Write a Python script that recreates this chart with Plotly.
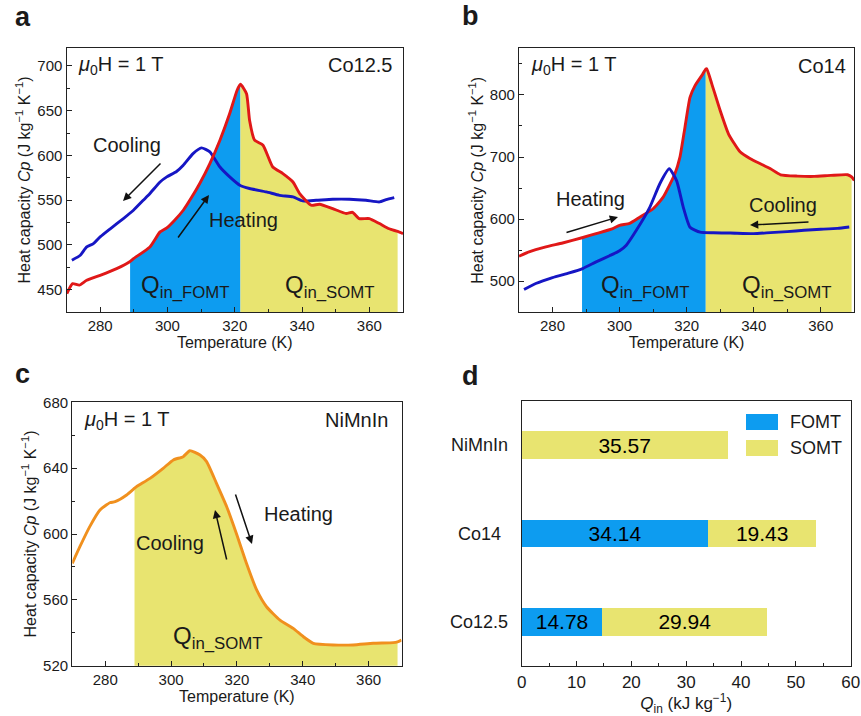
import numpy as np
import plotly.graph_objects as go

W, H = 861, 716

# ---------------- data ----------------
# panel a : Co12.5
a_heat_T = [270.1, 271.8, 273.8, 276.0, 280.0, 284.9, 288.9, 289.9, 294.8, 297.8, 299.8, 302.0, 304.7, 307.0,
            309.6, 312.6, 315.6, 318.5, 320.7, 321.7, 323.5, 324.4, 325.9, 328.4, 331.3, 334.3, 337.3, 339.3,
            342.7, 345.2, 349.1, 353.1, 355.0, 357.0, 360.0, 363.0, 365.9, 368.4, 370.0]
a_heat_Cp = [445.5, 456.7, 455.0, 460.4, 466.0, 473.5, 481.5, 484.6, 497.7, 514.5, 519.0, 527.0, 538.7, 552.0,
             568.6, 590.9, 617.0, 646.8, 672.8, 679.5, 669.0, 639.3, 617.0, 611.4, 587.0, 579.7, 570.3, 557.3,
             544.3, 545.4, 540.5, 535.0, 536.4, 529.4, 529.4, 523.8, 518.0, 515.0, 512.5]
a_cool_T = [271.6, 274.1, 276.0, 278.0, 280.0, 283.0, 286.9, 289.9, 292.8, 294.8, 297.8, 299.8, 302.7, 304.7,
            307.6, 310.1, 312.6, 315.6, 318.5, 321.5, 324.4, 329.4, 333.3, 337.3, 340.2, 344.2, 349.1, 354.1,
            359.0, 363.0, 365.0, 367.4]
a_cool_Cp = [482.8, 488.4, 497.7, 501.4, 508.9, 518.0, 529.4, 538.7, 549.8, 557.4, 570.3, 576.0, 582.0, 589.0,
             602.0, 608.4, 604.0, 587.0, 576.0, 566.7, 563.0, 559.2, 555.4, 553.6, 549.1, 549.8, 551.0, 551.0,
             549.8, 548.0, 550.6, 552.8]
a_fomt_range = [288.9, 321.7]
a_somt_range = [321.7, 368.4]

# panel b : Co14
b_heat_T = [270, 273, 278, 283, 288.8, 293, 298, 300, 303, 306, 310, 313, 316.5, 318, 319.5, 321, 322.5, 324.5,
            325.7, 326, 327.5, 330, 332.5, 336, 339, 342, 345, 348, 353, 358, 363, 368, 369.2, 370]
b_heat_Cp = [540.2, 547.2, 555.2, 561.6, 570.0, 576.6, 584.7, 590.0, 593.0, 603.0, 616.7, 635.4, 673.0, 699.7,
             748.0, 796.0, 815.0, 831.0, 841.5, 842.0, 817.7, 774.8, 737.0, 707.9, 697.2, 689.1, 681.1, 671.4,
             669.3, 668.8, 670.4, 671.4, 668.0, 662.3]
b_cool_T = [271.5, 275, 280, 285, 289, 293, 297, 300, 302, 305, 309, 312, 314.8, 317, 319, 321, 324, 328, 333,
            340, 345, 350, 355, 360, 365, 368.5]
b_cool_Cp = [486.7, 496.3, 505.9, 513.4, 520.4, 531.1, 541.0, 549.0, 558.0, 582.0, 619.0, 657.0, 681.0, 662.0,
             619.0, 587.0, 579.0, 578.0, 577.6, 576.6, 578.3, 579.9, 582.0, 583.6, 585.2, 587.4]
b_fomt_range = [288.8, 325.7]
b_somt_range = [325.7, 369.2]

# panel c : NiMnIn
c_T = [270.0, 272.3, 275.3, 278.4, 281.4, 283.0, 286.5, 288.9, 289.5, 293.6, 297.6, 300.7, 303.7, 305.7, 308.8,
       310.8, 313.8, 316.9, 320.0, 322.9, 326.0, 329.0, 333.1, 337.1, 340.2, 343.2, 349.3, 355.3, 361.4, 367.5,
       368.8, 370.0]
c_Cp = [582.2, 592.3, 604.5, 614.6, 619.0, 619.6, 623.7, 627.8, 628.8, 633.8, 639.9, 645.0, 647.0, 650.6, 648.0,
        644.0, 630.8, 616.6, 599.4, 582.2, 566.0, 555.8, 547.7, 542.7, 537.6, 533.6, 532.6, 532.6, 533.6, 534.0,
        534.5, 535.6]
c_somt_range = [288.9, 368.8]

# panel d : Q_in
d_samples = ["Co12.5", "Co14", "NiMnIn"]
d_fomt = [14.71, 34.04, 0.0]
d_somt = [30.09, 19.64, 37.57]
d_fomt_labels = ["14.78", "34.14", ""]
d_somt_labels = ["29.94", "19.43", "35.57"]
d_series = ["FOMT", "SOMT"]

# ---------------- style ----------------
FONT = "Arial, Liberation Sans, sans-serif"
C_BLUEFILL = "#0D9CF0"
C_YELLOW = "#E8E470"
C_RED = "#E01818"
C_BLUE = "#1616C4"
C_ORANGE = "#F0901E"
INK = "#1a1a1a"


def P(x, y):
    return x / W, 1 - y / H


fig = go.Figure()


def seg(T, Cp, rng):
    T = np.asarray(T)
    Cp = np.asarray(Cp)
    m = (T >= rng[0] - 1e-9) & (T <= rng[1] + 1e-9)
    return T[m], Cp[m]


def add_fill(T, Cp, rng, color, xa, ya):
    t, c = seg(T, Cp, rng)
    fig.add_trace(go.Scatter(x=t, y=c, mode="lines", line=dict(width=0, shape="spline", smoothing=0.5),
                             fill="tozeroy", fillcolor=color, xaxis=xa, yaxis=ya, showlegend=False,
                             hoverinfo="skip"))


def add_line(T, Cp, color, xa, ya, w=2.9):
    fig.add_trace(go.Scatter(x=T, y=Cp, mode="lines", line=dict(color=color, width=w, shape="spline", smoothing=0.5),
                             xaxis=xa, yaxis=ya, showlegend=False))


# panel a
add_fill(a_heat_T, a_heat_Cp, a_fomt_range, C_BLUEFILL, "x", "y")
add_fill(a_heat_T, a_heat_Cp, a_somt_range, C_YELLOW, "x", "y")
add_line(a_cool_T, a_cool_Cp, C_BLUE, "x", "y")
add_line(a_heat_T, a_heat_Cp, C_RED, "x", "y")
# panel b
add_fill(b_heat_T, b_heat_Cp, b_fomt_range, C_BLUEFILL, "x2", "y2")
add_fill(b_heat_T, b_heat_Cp, b_somt_range, C_YELLOW, "x2", "y2")
add_line(b_heat_T, b_heat_Cp, C_RED, "x2", "y2")
add_line(b_cool_T, b_cool_Cp, C_BLUE, "x2", "y2")
# panel c
add_fill(c_T, c_Cp, c_somt_range, C_YELLOW, "x3", "y3")
add_line(c_T, c_Cp, C_ORANGE, "x3", "y3")

# panel d
fig.add_trace(go.Bar(y=d_samples, x=d_fomt, orientation="h", name=d_series[0], marker=dict(color=C_BLUEFILL, line=dict(width=0)),
                     text=d_fomt_labels, textposition="inside", insidetextanchor="middle", constraintext="none",
                     textfont=dict(size=21, color="black", family=FONT), width=0.31,
                     xaxis="x4", yaxis="y4", showlegend=False))
fig.add_trace(go.Bar(y=d_samples, x=d_somt, orientation="h", name=d_series[1], marker=dict(color=C_YELLOW, line=dict(width=0)),
                     text=d_somt_labels, textposition="inside", insidetextanchor="middle", constraintext="none",
                     textfont=dict(size=21, color="black", family=FONT), width=0.31,
                     xaxis="x4", yaxis="y4", showlegend=False))

# ---------------- axes ----------------
def axis_common(**kw):
    d = dict(showline=True, linecolor="#222", linewidth=1.3, mirror=True, ticks="inside", ticklen=5,
             tickwidth=1.2, tickcolor="#222", showgrid=False, zeroline=False, automargin=False,
             tickfont=dict(family=FONT, size=15, color=INK))
    d.update(kw)
    return d


temp_title = dict(text="Temperature (K)", font=dict(family=FONT, size=16, color=INK), standoff=2)
cp_title = dict(text="Heat capacity <i>Cp</i> (J kg<sup>−1</sup> K<sup>−1</sup>)",
                font=dict(family=FONT, size=16, color=INK), standoff=2)

xa_common = dict(range=[270, 370], tick0=280, dtick=20, minor=dict(ticks="inside", ticklen=3, dtick=10, tick0=270, tickcolor="#222"))

pa = [P(66.5, 312), P(403, 48)]
pb = [P(519, 312.3), P(854.3, 48.3)]
pc = [P(72.3, 665.7), P(401.5, 402.3)]
pd_ = [P(521.7, 666), P(850.7, 401)]

fig.update_layout(
    xaxis=axis_common(domain=[pa[0][0], pa[1][0]], anchor="y", title=temp_title, **xa_common),
    yaxis=axis_common(domain=[pa[0][1], pa[1][1]], anchor="x", range=[425, 720], dtick=50, tick0=0,
                      minor=dict(ticks="inside", ticklen=3, dtick=25, tick0=0, tickcolor="#222"), title=cp_title),
    xaxis2=axis_common(domain=[pb[0][0], pb[1][0]], anchor="y2", title=temp_title, **xa_common),
    yaxis2=axis_common(domain=[pb[0][1], pb[1][1]], anchor="x2", range=[450, 875], dtick=100, tick0=0,
                       minor=dict(ticks="inside", ticklen=3, dtick=50, tick0=0, tickcolor="#222"), title=cp_title),
    xaxis3=axis_common(domain=[pc[0][0], pc[1][0]], anchor="y3", title=temp_title, **xa_common),
    yaxis3=axis_common(domain=[pc[0][1], pc[1][1]], anchor="x3", range=[520, 680], dtick=40, tick0=0,
                       minor=dict(ticks="inside", ticklen=3, dtick=20, tick0=0, tickcolor="#222"), title=cp_title),
    xaxis4=axis_common(domain=[pd_[0][0], pd_[1][0]], anchor="y4", range=[0, 60], dtick=10, tick0=0,
                       minor=dict(ticks="inside", ticklen=3, dtick=5, tick0=0, tickcolor="#222"),
                       tickfont=dict(family=FONT, size=17, color=INK),
                       title=dict(text="<i>Q</i><sub>in</sub> (kJ kg<sup>−1</sup>)",
                                  font=dict(family=FONT, size=17, color=INK), standoff=2)),
    yaxis4=axis_common(domain=[pd_[0][1], pd_[1][1]], anchor="x4", range=[-0.5, 2.5], ticks="",
                       showticklabels=False, type="category"),
    barmode="stack",
    width=W, height=H,
    margin=dict(l=0, r=0, t=0, b=0),
    paper_bgcolor="white", plot_bgcolor="white",
    font=dict(family=FONT, color=INK),
)

ann = []


def text(x, y, s, size, xanchor="center", yanchor="middle", bold=False):
    px, py = P(x, y)
    ann.append(dict(x=px, y=py, xref="paper", yref="paper", text=(f"<b>{s}</b>" if bold else s),
                    showarrow=False, xanchor=xanchor, yanchor=yanchor,
                    font=dict(family=FONT, size=size, color=INK)))


def arrow(hx, hy, tx, ty):
    px, py = P(hx, hy)
    ann.append(dict(x=px, y=py, xref="paper", yref="paper", text="", showarrow=True, ax=tx - hx, ay=ty - hy,
                    axref="pixel", ayref="pixel", arrowhead=2, arrowsize=1.1, arrowwidth=1.5, arrowcolor="#111",
                    standoff=0, startstandoff=0))


# panel letters
text(23, 17, "a", 27, bold=True)
text(471, 16, "b", 27, bold=True)
text(22, 374, "c", 27, bold=True)
text(471, 376, "d", 27, bold=True)

mu = "<i>μ</i><sub>0</sub>H = 1 T"
# panel a
text(76, 65, mu, 20, xanchor="left")
text(395, 65, "Co12.5", 20, xanchor="right")
text(127, 145, "Cooling", 20)
text(243, 220, "Heating", 20)
arrow(123, 201, 162, 162)
arrow(209, 195, 177, 239)
text(185, 286, "Q<sub>in_FOMT</sub>", 24)
text(330, 286, "Q<sub>in_SOMT</sub>", 24)
# panel b
text(529, 65, mu, 20, xanchor="left")
text(848, 66, "Co14", 20, xanchor="right")
text(590, 199, "Heating", 20)
text(783, 205, "Cooling", 20)
arrow(618, 217, 565, 233)
arrow(750, 225, 810, 222)
text(645, 286, "Q<sub>in_FOMT</sub>", 24)
text(787, 286, "Q<sub>in_SOMT</sub>", 24)
# panel c
text(82, 420, mu, 20, xanchor="left")
text(390, 420, "NiMnIn", 20, xanchor="right")
text(298, 514, "Heating", 20)
text(170, 543, "Cooling", 20)
arrow(252, 544, 235, 493)
arrow(215, 510, 227, 561)
text(218, 637, "Q<sub>in_SOMT</sub>", 24)

# panel d category labels (centred)
for name in d_samples:
    ann.append(dict(x=479 / W, y=name, xref="paper", yref="y4", text=name, showarrow=False,
                    xanchor="center", yanchor="middle", font=dict(family=FONT, size=18, color=INK)))

# panel d legend
shapes = []
leg_rows = [(422, C_BLUEFILL), (448, C_YELLOW)]
for (yy, col), nm in zip(leg_rows, d_series):
    x0, y0 = P(746, yy - 8)
    x1, y1 = P(778, yy + 8)
    shapes.append(dict(type="rect", xref="paper", yref="paper", x0=x0, x1=x1, y0=y1, y1=y0,
                       fillcolor=col, line=dict(width=0)))
    text(788, yy, nm, 18, xanchor="left")

fig.update_layout(annotations=ann, shapes=shapes)

fig.write_html("out.html")
